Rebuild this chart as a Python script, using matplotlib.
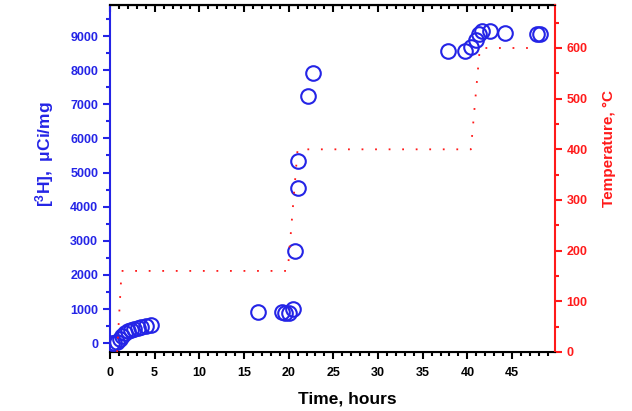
import matplotlib
matplotlib.use("Agg")
import matplotlib.pyplot as plt
from matplotlib.ticker import MultipleLocator

plt.rcParams['font.family'] = ['Liberation Sans', 'DejaVu Sans']
plt.rcParams['font.weight'] = 'bold'
plt.rcParams['mathtext.fontset'] = 'custom'
plt.rcParams['mathtext.rm'] = 'Liberation Sans:bold'
plt.rcParams['mathtext.it'] = 'Liberation Sans:bold'
plt.rcParams['mathtext.bf'] = 'Liberation Sans:bold'

# Tritium data (hours, uCi/mg)
time_h = [0.2, 0.5, 0.8, 1.1, 1.4, 1.7, 2.0, 2.3, 2.7, 3.1, 3.5, 4.0, 4.6,
          16.6, 19.2, 19.6, 20.05, 20.5, 20.7, 21.0, 21.1, 22.2, 22.75,
          37.8, 39.7, 40.4, 41.0, 41.25, 41.6, 42.5, 44.2, 47.85, 48.15]
tritium = [0, 20, 50, 120, 220, 300, 350, 390, 420, 440, 470, 500, 530,
           910, 910, 900, 880, 1000, 2712, 5340, 4540, 7252, 7908,
           8562, 8571, 8690, 8885, 9050, 9150, 9150, 9080, 9050, 9050]

# Temperature profile (hours, deg C)
temp_time = [0.8, 1.3, 19.9, 21.0, 40.4, 41.4, 47.9]
temp_c = [0, 160, 160, 400, 400, 600, 600]

x_ticks = [0, 5, 10, 15, 20, 25, 30, 35, 40, 45]
y_ticks = [0, 1000, 2000, 3000, 4000, 5000, 6000, 7000, 8000, 9000]
t_ticks = [0, 100, 200, 300, 400, 500, 600]

BLUE = '#2424e6'
RED = '#ff1a1a'
TICK_FS = 9

fig = plt.figure(figsize=(6.32, 4.11), dpi=100)
ax = fig.add_axes([0.174, 0.1436, 0.704, 0.8444])
ax2 = ax.twinx()

ax.plot(time_h, tritium, linestyle='none', marker='o', markersize=10.5,
        markerfacecolor='none', markeredgecolor=BLUE, markeredgewidth=1.5, zorder=3)
ax2.plot(temp_time, temp_c, color=RED, linewidth=1.3, linestyle=(0, (1, 6.5)))

ax.set_xlim(0, 49.8)
ax.set_ylim(-255, 9910)
ax2.set_ylim(0, 685)

ax.set_xticks(x_ticks)
ax.set_yticks(y_ticks)
ax2.set_yticks(t_ticks)
ax.xaxis.set_minor_locator(MultipleLocator(1))
ax.yaxis.set_minor_locator(MultipleLocator(500))
ax2.yaxis.set_minor_locator(MultipleLocator(50))

ax.tick_params(axis='x', which='both', direction='out', top=False, labelsize=TICK_FS, width=1.5, pad=6)
ax.tick_params(axis='x', which='major', length=5)
ax.tick_params(axis='x', which='minor', length=3)
ax.tick_params(axis='y', which='both', direction='out', colors=BLUE, labelsize=TICK_FS, width=1.5)
ax.tick_params(axis='y', which='major', length=5)
ax.tick_params(axis='y', which='minor', length=3)
ax2.tick_params(axis='y', which='both', direction='out', colors=RED, labelsize=TICK_FS, width=1.5)
ax2.tick_params(axis='y', which='major', length=5)
ax2.tick_params(axis='y', which='minor', length=3)

# top ticks pointing inward
secx = ax.secondary_xaxis('top')
secx.set_xticks(x_ticks)
secx.xaxis.set_minor_locator(MultipleLocator(1))
secx.tick_params(axis='x', which='both', direction='in', labeltop=False, width=1.5)
secx.tick_params(axis='x', which='major', length=5)
secx.tick_params(axis='x', which='minor', length=3)

for s in ['top', 'bottom']:
    ax.spines[s].set_linewidth(1.5)
secx.spines['top'].set_linewidth(1.5)
ax.spines['left'].set_color(BLUE)
ax.spines['left'].set_linewidth(1.5)
ax2.spines['left'].set_visible(False)
ax2.spines['right'].set_color(RED)
ax2.spines['right'].set_linewidth(1.5)
ax.spines['right'].set_visible(False)

for lab in ax.get_xticklabels() + ax.get_yticklabels() + ax2.get_yticklabels():
    lab.set_fontweight('bold')

ax.set_xlabel('Time, hours', fontsize=12.5, fontweight='bold', labelpad=9)
ax.set_ylabel('[$^{3}$H],  μCi/mg', fontsize=12.5, fontweight='bold', color=BLUE, labelpad=10)
ax2.set_ylabel('Temperature, °C', fontsize=11, fontweight='bold', color=RED, labelpad=10)
ax.xaxis.label.set_x(0.534)
ax.yaxis.label.set_y(0.57)
ax2.yaxis.label.set_y(0.585)

fig.savefig('out.png', dpi=100)
